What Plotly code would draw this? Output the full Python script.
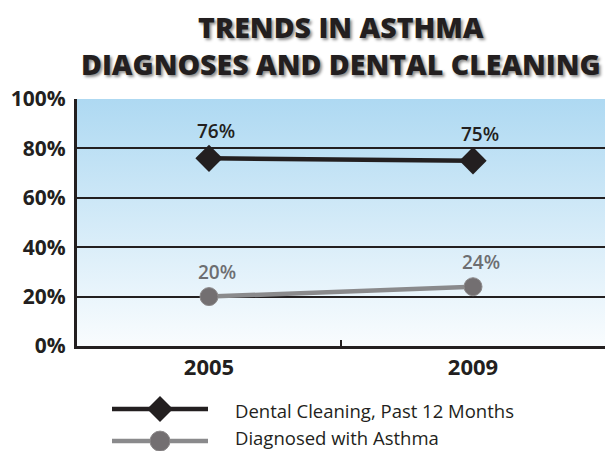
import base64
import plotly.graph_objects as go

years = ["2005", "2009"]
dental = [76, 75]
asthma = [20, 24]
dental_name = "Dental Cleaning, Past 12 Months"
asthma_name = "Diagnosed with Asthma"
title_text = "TRENDS IN ASTHMA<br>DIAGNOSES AND DENTAL CLEANING"
y_ticks = [0, 20, 40, 60, 80, 100]
y_ticktext = ["0%", "20%", "40%", "60%", "80%", "100%"]

DARK = "#231f20"
GRAY_LINE = "#8a8a8c"
GRAY_MARK = "#736f71"
GRAY_EDGE = "#8d8a8b"
GRAY_TEXT = "#6d6e71"
FONT = "Open Sans"

svg = ('<svg xmlns="http://www.w3.org/2000/svg" width="100" height="100" preserveAspectRatio="none">'
       '<defs><linearGradient id="g" x1="0" y1="0" x2="0" y2="1">'
       '<stop offset="0" stop-color="#aed9f2"/><stop offset="1" stop-color="#f9fcfe"/>'
       '</linearGradient></defs><rect width="100" height="100" fill="url(#g)"/></svg>')
svg_uri = "data:image/svg+xml;base64," + base64.b64encode(svg.encode()).decode()

fig = go.Figure()
fig.add_trace(go.Scatter(
    x=years, y=dental, name=dental_name, mode="lines+markers",
    line=dict(color=DARK, width=4.5),
    marker=dict(symbol="diamond", size=21, color=DARK),
    cliponaxis=False, showlegend=False))
fig.add_trace(go.Scatter(
    x=years, y=asthma, name=asthma_name, mode="lines+markers",
    line=dict(color=GRAY_LINE, width=4.5),
    marker=dict(symbol="circle", size=18, color=GRAY_MARK,
                line=dict(color=GRAY_EDGE, width=1)),
    cliponaxis=False, showlegend=False))

# data labels (x given as category index)
for i, yv in enumerate(dental):
    fig.add_annotation(x=i, y=yv, text=f"{yv}%", showarrow=False, yshift=27, xshift=7,
                       font=dict(family=FONT, size=19, color=DARK, weight=600))
for i, yv in enumerate(asthma):
    fig.add_annotation(x=i, y=yv, text=f"{yv}%", showarrow=False, yshift=25, xshift=8,
                       font=dict(family=FONT, size=19, color=GRAY_TEXT, weight=600))

# title (two lines in one text)
fig.add_annotation(xref="paper", yref="paper", x=0.5, y=1.2166, text=title_text,
                   showarrow=False, xanchor="center", yanchor="middle", align="center",
                   borderpad=0,
                   font=dict(family=FONT, size=28.5, color=DARK, weight=800,
                             shadow="2px 2px 3px rgba(0,0,0,0.45)"))

# gradient background
fig.add_layout_image(source=svg_uri, xref="paper", yref="paper", x=0, y=1,
                     sizex=1, sizey=1, sizing="stretch", layer="below",
                     xanchor="left", yanchor="top")

# manual legend
leg_y = [-0.255, -0.385]
leg_text_y = [-0.262, -0.372]
x_l0, x_l1, x_mid, x_txt = (112 - 77) / 528, (208 - 77) / 528, (160 - 77) / 528, (234 - 77) / 528
for (ly, ty, color, name) in [(leg_y[0], leg_text_y[0], DARK, dental_name),
                              (leg_y[1], leg_text_y[1], GRAY_LINE, asthma_name)]:
    fig.add_shape(type="line", xref="paper", yref="paper",
                  x0=x_l0, x1=x_l1, y0=ly, y1=ly, line=dict(color=color, width=4.5))
    fig.add_annotation(xref="paper", yref="paper", x=x_txt, y=ty,
                       text=name, showarrow=False, xanchor="left", yanchor="middle",
                       borderpad=0,
                       font=dict(family=FONT, size=18.5, color=DARK))
fig.add_shape(type="path", xref="paper", yref="paper", xsizemode="pixel", ysizemode="pixel",
              xanchor=x_mid, yanchor=leg_y[0],
              path="M 0,-13 L 13,0 L 0,13 L -13,0 Z",
              fillcolor=DARK, line=dict(width=0))
fig.add_shape(type="circle", xref="paper", yref="paper", xsizemode="pixel", ysizemode="pixel",
              xanchor=x_mid, yanchor=leg_y[1], x0=-10, x1=10, y0=-10, y1=10,
              fillcolor=GRAY_MARK, line=dict(color=GRAY_EDGE, width=1))

fig.update_layout(
    width=608, height=451,
    margin=dict(l=77, r=3, t=99, b=105),
    paper_bgcolor="white", plot_bgcolor="white",
    xaxis=dict(type="category", range=[-0.5, 1.5], showline=True, linecolor=DARK,
               linewidth=3, ticks="inside", tickson="boundaries", ticklen=6,
               tickwidth=2, tickcolor=DARK, showgrid=False,
               tickfont=dict(family=FONT, size=22, color=DARK, weight=700)),
    yaxis=dict(range=[0, 100], tickvals=y_ticks, ticktext=y_ticktext,
               showline=True, linecolor=DARK, linewidth=3, showgrid=True,
               gridcolor=DARK, gridwidth=2, zeroline=False, ticks="",
               ticklabelstandoff=4,
               tickfont=dict(family=FONT, size=21, color=DARK, weight=700)),
)

fig.write_html("out.html")
